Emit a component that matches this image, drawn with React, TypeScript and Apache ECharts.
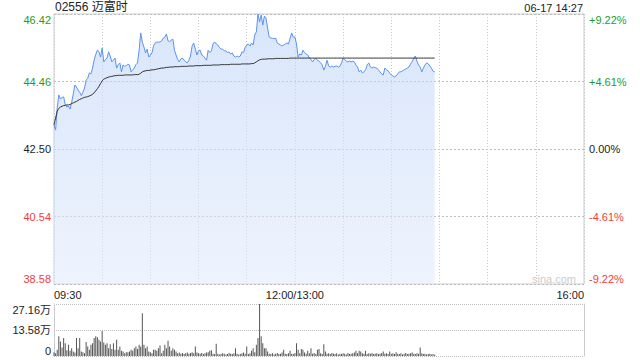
import React, { useEffect, useRef } from "react";
import * as echarts from "echarts";

const stockTitle = "02556 迈富时";
const timeStamp = "06-17 14:27";
const prevClose = 42.5;
const timeLabels: Record<number, string> = { 0: "09:30", 150: "12:00/13:00", 330: "16:00" };

// one value per minute, from 09:30
const prices = [
  43.20, 43.05, 43.70, 44.07, 43.95, 44.00, 44.01, 43.80, 43.72, 43.75,
  43.66, 43.86, 44.10, 44.36, 44.30, 44.21, 44.15, 44.05, 44.15, 44.27,
  44.50, 44.55, 44.71, 44.68, 44.85, 45.08, 45.25, 45.37, 45.33, 45.17,
  45.43, 45.03, 45.10, 45.14, 45.32, 45.20, 45.03, 45.08, 45.14, 44.85,
  44.95, 45.00, 44.74, 44.94, 44.90, 44.92, 44.96, 44.94, 44.74, 44.80,
  44.85, 44.95, 45.00, 45.37, 45.87, 45.60, 45.46, 45.29, 45.40, 45.17,
  45.23, 45.29, 45.50, 45.58, 45.61, 45.60, 45.61, 45.64, 45.72, 45.75,
  45.84, 45.64, 45.62, 45.66, 45.69, 45.37, 45.23, 45.10, 45.03, 45.12,
  45.14, 45.08, 45.03, 45.00, 45.08, 45.20, 45.49, 45.58, 45.40, 45.23,
  45.35, 45.37, 45.23, 45.20, 45.14, 45.08, 45.37, 45.30, 45.35, 45.55,
  45.61, 45.55, 45.52, 45.45, 45.40, 45.40, 45.35, 45.35, 45.30, 45.32,
  45.26, 45.29, 45.20, 45.17, 45.20, 45.17, 45.20, 45.32, 45.30, 45.45,
  45.52, 45.55, 45.49, 45.58, 45.52, 45.81, 45.90, 46.42, 46.19, 46.39,
  46.10, 46.36, 46.30, 46.01, 45.75, 45.72, 45.72, 45.70, 45.72, 45.58,
  45.55, 45.52, 45.49, 45.52, 45.55, 45.58, 45.55, 45.72, 45.87, 45.75,
  45.75, 45.55, 45.17, 45.26, 45.23, 45.37, 45.30, 45.26, 45.23, 45.14,
  45.10, 45.03, 45.10, 45.14, 45.08, 45.05, 45.00, 44.94, 44.79, 44.90,
  45.08, 44.91, 44.88, 44.91, 44.88, 44.90, 44.91, 44.88, 44.90, 45.00,
  45.14, 45.10, 45.05, 45.03, 45.05, 45.03, 45.05, 45.03, 44.94, 44.88,
  44.74, 44.79, 44.71, 44.74, 44.80, 44.94, 45.00, 44.88, 44.85, 44.88,
  44.86, 44.85, 44.80, 44.74, 44.68, 44.65, 44.85, 44.80, 44.77, 44.71,
  44.65, 44.62, 44.59, 44.62, 44.68, 44.74, 44.74, 44.77, 44.80, 44.82,
  44.85, 44.88, 44.97, 45.03, 45.14, 45.20, 45.05, 44.94, 44.88, 44.74,
  44.85, 44.94, 45.00, 44.97, 44.91, 44.85, 44.76, 44.74,
];

const avgPrices = [
  43.20, 43.40, 43.60, 43.68, 43.72, 43.74, 43.76, 43.77, 43.78, 43.78,
  43.79, 43.82, 43.84, 43.86, 43.88, 43.91, 43.94, 43.96, 43.98, 44.00,
  44.01, 44.02, 44.04, 44.06, 44.09, 44.13, 44.19, 44.25, 44.32, 44.40,
  44.48, 44.53, 44.55, 44.57, 44.59, 44.60, 44.61, 44.62, 44.63, 44.63,
  44.64, 44.64, 44.64, 44.64, 44.65, 44.65, 44.65, 44.65, 44.65, 44.65,
  44.66, 44.66, 44.66, 44.67, 44.70, 44.74, 44.76, 44.77, 44.78, 44.78,
  44.79, 44.80, 44.80, 44.81, 44.82, 44.83, 44.84, 44.85, 44.85, 44.86,
  44.87, 44.87, 44.88, 44.88, 44.88, 44.89, 44.89, 44.89, 44.89, 44.90,
  44.90, 44.90, 44.90, 44.90, 44.91, 44.91, 44.91, 44.91, 44.92, 44.92,
  44.92, 44.92, 44.92, 44.93, 44.93, 44.93, 44.93, 44.93, 44.93, 44.94,
  44.94, 44.94, 44.94, 44.94, 44.95, 44.95, 44.95, 44.95, 44.95, 44.95,
  44.96, 44.96, 44.96, 44.96, 44.96, 44.96, 44.96, 44.97, 44.97, 44.97,
  44.97, 44.97, 44.97, 44.98, 44.98, 45.00, 45.03, 45.06, 45.09, 45.10,
  45.11, 45.11, 45.11, 45.12, 45.12, 45.12, 45.12, 45.12, 45.13, 45.13,
  45.13, 45.13, 45.13, 45.13, 45.13, 45.13, 45.13, 45.14, 45.14, 45.14,
  45.14, 45.14, 45.14, 45.14, 45.14, 45.14, 45.14, 45.14, 45.14, 45.14,
  45.14, 45.14, 45.14, 45.14, 45.14, 45.14, 45.14, 45.14, 45.14, 45.14,
  45.14, 45.14, 45.14, 45.14, 45.14, 45.14, 45.14, 45.14, 45.14, 45.14,
  45.14, 45.14, 45.14, 45.14, 45.14, 45.14, 45.14, 45.14, 45.14, 45.14,
  45.14, 45.14, 45.14, 45.14, 45.14, 45.14, 45.14, 45.14, 45.14, 45.14,
  45.14, 45.14, 45.14, 45.14, 45.14, 45.14, 45.14, 45.14, 45.14, 45.14,
  45.14, 45.14, 45.14, 45.14, 45.14, 45.14, 45.14, 45.14, 45.14, 45.14,
  45.14, 45.14, 45.14, 45.14, 45.14, 45.14, 45.14, 45.14, 45.14, 45.14,
  45.14, 45.14, 45.14, 45.14, 45.14, 45.14, 45.14, 45.14,
];

const volumes = [
  20000, 15000, 32000, 103000, 76000, 44000, 94000, 67000, 30000, 59000,
  27000, 41000, 23000, 18000, 94000, 41000, 94000, 23000, 20000, 14000,
  73000, 50000, 32000, 59000, 67000, 94000, 103000, 98000, 85000, 76000,
  130000, 70000, 59000, 67000, 41000, 62000, 37000, 67000, 32000, 85000,
  32000, 50000, 27000, 23000, 14000, 20000, 20000, 23000, 32000, 27000,
  41000, 50000, 37000, 59000, 50000, 223000, 59000, 41000, 50000, 23000,
  20000, 15000, 32000, 32000, 27000, 41000, 55000, 14000, 27000, 59000,
  41000, 80000, 50000, 27000, 41000, 32000, 23000, 14000, 18000, 12000,
  16000, 10000, 14000, 18000, 12000, 16000, 20000, 14000, 50000, 18000,
  14000, 12000, 16000, 10000, 14000, 18000, 20000, 27000, 30000, 12000,
  10000, 64000, 12000, 8000, 10000, 14000, 12000, 8000, 10000, 16000,
  12000, 10000, 14000, 41000, 12000, 8000, 10000, 14000, 18000, 12000,
  50000, 10000, 14000, 27000, 41000, 20000, 59000, 94000, 271600, 103000,
  67000, 41000, 41000, 23000, 12000, 10000, 14000, 8000, 12000, 16000,
  10000, 12000, 18000, 32000, 12000, 10000, 14000, 27000, 12000, 10000,
  16000, 67000, 32000, 14000, 37000, 32000, 18000, 12000, 27000, 14000,
  41000, 12000, 16000, 10000, 32000, 37000, 14000, 10000, 62000, 23000,
  12000, 14000, 10000, 16000, 12000, 10000, 14000, 8000, 12000, 10000,
  14000, 12000, 8000, 16000, 10000, 12000, 14000, 18000, 27000, 14000,
  27000, 23000, 14000, 12000, 27000, 10000, 14000, 12000, 16000, 10000,
  12000, 14000, 10000, 12000, 16000, 23000, 12000, 14000, 10000, 23000,
  12000, 14000, 10000, 20000, 12000, 10000, 14000, 8000, 12000, 16000,
  10000, 12000, 14000, 18000, 12000, 10000, 14000, 12000, 44000, 14000,
  10000, 12000, 8000, 10000, 12000, 8000, 10000, 6000,
];

const FONT = "'Liberation Sans', Arial, 'Noto Sans CJK SC', sans-serif";
const GREEN = "#1e9e1e";
const RED = "#f03c3c";
const DARK = "#222";

function sideColor(v: number) {
  if (v > 0.001) return GREEN;
  if (v < -0.001) return RED;
  return DARK;
}

export default function App() {
  const ref = useRef<HTMLDivElement>(null);

  useEffect(() => {
    if (!ref.current) return;
    const chart = echarts.init(ref.current, undefined, { renderer: "svg" });

    const priceData = prices.map((p, i) => [i, (p - prevClose) * 100]);
    const avgData = avgPrices.map((p, i) => [i, (p - prevClose) * 100]);
    const volData = volumes.map((v, i) => [i, v]);

    chart.setOption({
      animation: false,
      backgroundColor: "#fff",
      textStyle: { fontFamily: FONT },
      grid: [
        { left: 54, right: 56, top: 14, height: 270, show: true, borderColor: "#ccc", borderWidth: 1, backgroundColor: "transparent" },
        { left: 54, right: 56, top: 304, height: 52 },
      ],
      graphic: [
        { type: "text", left: 55, top: 1, style: { text: stockTitle, font: `12px ${FONT}`, fill: "#222" } },
        { type: "text", right: 57, top: 2, style: { text: timeStamp, font: `11px ${FONT}`, fill: "#222" } },
        { type: "text", left: 532, top: 273, z: 10, style: { text: "sina.com", font: `11px ${FONT}`, fill: "#ccc" } },
      ],
      xAxis: [
        {
          type: "value", gridIndex: 0, min: 0, max: 330, interval: 30,
          axisLine: { show: false }, axisTick: { show: false },
          splitLine: { show: true, lineStyle: { color: "#c8c8c8", type: [1, 2], width: 1 } },
          axisLabel: {
            margin: 5, fontSize: 11, color: "#222", fontFamily: FONT,
            showMinLabel: true, showMaxLabel: true,
            alignMinLabel: "left", alignMaxLabel: "right",
            formatter: (v: number) => timeLabels[v] ?? "",
          },
        },
        {
          type: "value", gridIndex: 1, min: 0, max: 330, interval: 30, show: false,
        },
      ],
      yAxis: [
        {
          type: "value", gridIndex: 0, min: -392, max: 392, interval: 196, position: "left",
          axisLine: { show: false }, axisTick: { show: false },
          splitLine: { show: true, lineStyle: { color: "#bdbdbd", type: [2, 2], width: 1 } },
          axisLabel: {
            margin: 3, fontSize: 11, fontFamily: FONT,
            showMinLabel: true, showMaxLabel: true,
            verticalAlignMinLabel: "bottom", verticalAlignMaxLabel: "top",
            color: (v: any) => sideColor(parseFloat(v)),
            formatter: (v: number) => ((prevClose * 100 + v) / 100).toFixed(2),
          },
        },
        {
          type: "value", gridIndex: 0, min: -392, max: 392, interval: 196, position: "right",
          axisLine: { show: false }, axisTick: { show: false }, splitLine: { show: false },
          axisLabel: {
            margin: 5, fontSize: 11, fontFamily: FONT,
            showMinLabel: true, showMaxLabel: true,
            verticalAlignMinLabel: "bottom", verticalAlignMaxLabel: "top",
            color: (v: any) => sideColor(parseFloat(v)),
            formatter: (v: number) => (v > 0 ? "+" : "") + (v / prevClose).toFixed(2) + "%",
          },
        },
        {
          type: "value", gridIndex: 1, min: 0, max: 271600, interval: 135800, position: "left",
          axisLine: { show: true, lineStyle: { color: "#ccc" } }, axisTick: { show: false },
          splitLine: { show: true, lineStyle: { color: "#bdbdbd", type: [1, 1], width: 1 } },
          axisLabel: {
            margin: 3, fontSize: 11, color: "#222", fontFamily: FONT,
            showMinLabel: true, showMaxLabel: true,
            verticalAlignMinLabel: "bottom", verticalAlignMaxLabel: "top",
            formatter: (v: number) => (v === 0 ? "0" : (v / 10000).toFixed(2) + "万"),
          },
        },
        {
          type: "value", gridIndex: 1, min: 0, max: 271600, interval: 135800, position: "right",
          axisLine: { show: true, lineStyle: { color: "#ccc" } }, axisTick: { show: false },
          splitLine: { show: false }, axisLabel: { show: false },
        },
      ],
      series: [
        {
          type: "line", xAxisIndex: 0, yAxisIndex: 0, data: priceData,
          showSymbol: false, symbol: "none",
          lineStyle: { color: "#5b93ee", width: 1 },
          areaStyle: {
            origin: "start",
            color: new echarts.graphic.LinearGradient(0, 0, 0, 1, [
              { offset: 0, color: "rgba(190,212,248,0.85)" },
              { offset: 1, color: "rgba(225,235,252,0.8)" },
            ]),
          },
          z: 3,
        },
        {
          type: "line", xAxisIndex: 0, yAxisIndex: 0, data: avgData,
          showSymbol: false, symbol: "none",
          lineStyle: { color: "#333", width: 1 },
          z: 4,
        },
        {
          type: "bar", xAxisIndex: 1, yAxisIndex: 2, data: volData,
          barWidth: 1, itemStyle: { color: "#555" },
        },
      ],
    });

    return () => chart.dispose();
  }, []);

  return <div ref={ref} style={{ width: 640, height: 360, position: "absolute", left: 0, top: 0 }} />;
}
